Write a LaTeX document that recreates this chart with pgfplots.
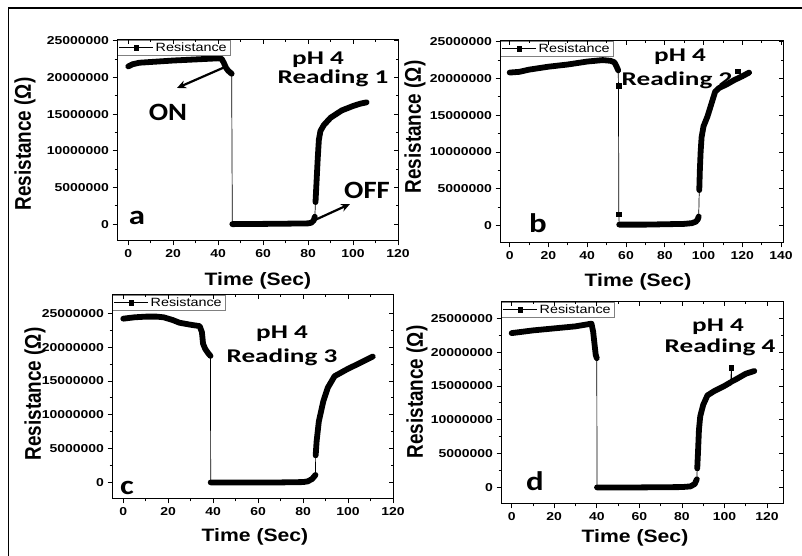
\documentclass[border=0pt]{standalone}
\usepackage{pgfplots}
\pgfplotsset{compat=1.18}
\usepackage{pgfplotstable}
\usepackage{fontspec}
\usepackage{graphicx}
\usetikzlibrary{arrows.meta}
\setmainfont{Liberation Sans}
\newfontfamily\tickf{Liberation Sans}[FakeStretch=1.22]
\newfontfamily\labf{Liberation Sans}[FakeStretch=1.18]
\newfontfamily\legf{Liberation Sans}[FakeStretch=1.2]
\newfontfamily\calf{Carlito}[FakeStretch=1.4]
\newfontfamily\letf{Carlito}[FakeStretch=1.22]
\newfontfamily\onf{Carlito}[FakeStretch=1.15]
\newcommand\TL{\tickf\bfseries\fontsize{11.5}{13}\selectfont}
\newcommand\LG{\legf\fontsize{12}{13}\selectfont}
\newcommand\XL{\labf\bfseries\fontsize{18}{20}\selectfont}
\newcommand\YL{\bfseries\fontsize{19}{21}\selectfont}
\newcommand\AN{\calf\bfseries\fontsize{19.5}{21}\selectfont}
\newcommand\LT{\letf\bfseries\fontsize{27}{30}\selectfont}
\newcommand\OO{\onf\bfseries\fontsize{25}{28}\selectfont}

\pgfplotstableread{
x y
0 21500000
2 21800000
5 22000000
10 22100000
20 22300000
30 22450000
40 22600000
41.5 22550000
42.5 22000000
43.5 21300000
44.5 20900000
46 20500000
nan nan
46.3 0
60 30000
70 60000
80 100000
81.5 200000
82.5 500000
83 1000000
nan nan
83.3 3000000
83.8 6000000
84.3 9000000
84.8 11500000
85.5 12700000
87 13500000
90 14500000
95 15500000
100 16100000
103 16400000
106 16600000
}\dA

\pgfplotstableread{
x y
0 20800000
5 20900000
10 21200000
20 21600000
30 21900000
40 22300000
48 22500000
52 22400000
54 22200000
55 21700000
56 21100000
nan nan
56.1 19000000
nan nan
56.3 1500000
nan nan
56.5 100000
70 100000
80 150000
90 200000
94 300000
96 500000
97 800000
97.5 1200000
nan nan
97.8 4800000
98.1 7500000
98.5 10000000
99 12000000
100 13500000
102 14800000
104 16500000
106 18200000
108 18700000
112 19200000
116 19800000
120 20300000
123.5 20800000
}\dB

\pgfplotstableread{
x y
0 24200000
5 24400000
10 24500000
15 24500000
18 24400000
22 24000000
25 23600000
30 23300000
34 23100000
35 22200000
35.5 20500000
36.5 19700000
38 19000000
38.8 18700000
nan nan
38.9 0
50 0
60 0
70 0
80 50000
82 150000
84 500000
85.5 1100000
nan nan
85.6 4000000
86 6000000
87 9000000
89 12000000
91 14000000
94 15700000
100 16800000
105 17600000
111 18600000
}\dC

\pgfplotstableread{
x y
0 22800000
10 23200000
20 23500000
30 23800000
37.5 24200000
38.3 23000000
39 21000000
39.5 19600000
40 19100000
nan nan
40.1 0
60 0
80 50000
84 150000
86 500000
87 1200000
nan nan
87.2 2800000
87.6 5500000
88 8500000
88.6 10500000
90 12200000
92 13600000
95 14200000
100 15000000
103 15550000
nan nan
103.2 17700000
nan nan
103.4 15650000
105 15900000
110 16800000
114 17200000
}\dD

\pgfplotsset{
  common/.style={scale only axis, anchor=south west,
    axis line style={line width=1bp},
    ytick={0,5000000,10000000,15000000,20000000,25000000},
    scaled y ticks=false, scaled x ticks=false,
    minor x tick num=1, minor y tick num=1,
    major tick length=4.5bp, minor tick length=2.5bp,
    every tick/.style={black, line width=0.8bp}},
  base/.style={common,
    yticklabels={0,5000000,10000000,15000000,20000000,25000000},
    tick align=outside, xtick pos=left, ytick pos=left,
    ticklabel style={font=\TL},
    /pgf/number format/assume math mode=true,
    legend style={at={(0,1)}, anchor=north west, draw=gray, line width=0.6bp,
      fill=white, font=\LG, inner xsep=1.5bp, inner ysep=0.5bp,
      cells={anchor=west}},
    legend image code/.code={
      \draw[mark repeat=2, mark phase=2, ##1]
        plot coordinates {(0bp,0bp) (17bp,0bp) (34bp,0bp)};}},
  over/.style={common, tick align=inside, xtick pos=right, ytick pos=right,
    xticklabels={}, yticklabels={}},
  thin/.style={black, line width=0.7bp, unbounded coords=discard, forget plot},
  thick/.style={black, line width=5.8bp, line cap=round, line join=round,
    unbounded coords=jump, forget plot},
  pa/.style={at={(117bp,315bp)}, width=281bp, height=201bp,
    xmin=-5, xmax=120, ymin=-2300000, ymax=25100000, xtick={0,20,...,120}},
  pb/.style={at={(500bp,313bp)}, width=283bp, height=202bp,
    xmin=-5, xmax=141, ymin=-2400000, ymax=25100000, xtick={0,20,...,140}},
  pc/.style={at={(112bp,57bp)}, width=281bp, height=204bp,
    xmin=-5, xmax=120, ymin=-2450000, ymax=27700000, xtick={0,20,...,120}},
  pd/.style={at={(501bp,52bp)}, width=282bp, height=202bp,
    xmin=-5, xmax=127.5, ymin=-2450000, ymax=27400000, xtick={0,20,...,120}},
  legimg/.style={black, line width=0.9bp, mark=square*, mark size=2.3bp},
}

\newcommand\ylab[2]{\node at (#1,#2) {\rotatebox{90}{\scalebox{1}[1.2]{\YL Resistance (Ω)}}};}

\begin{document}
\begin{tikzpicture}[x=1bp,y=1bp]
\useasboundingbox (0,0) rectangle (802,556);
\draw[line width=1.6bp] (8.5,-5) -- (8.5,548) -- (810,548);

% panel a
\begin{axis}[base, pa]
\addlegendimage{legimg}
\addlegendentry{Resistance}
\addplot[thin] table {\dA};
\addplot[thick] table {\dA};
\end{axis}
\begin{axis}[over, pa]\end{axis}

% panel b
\begin{axis}[base, pb]
\addlegendimage{legimg}
\addlegendentry{Resistance}
\addplot[thin] table {\dB};
\addplot[thick] table {\dB};
\addplot[only marks, mark=square*, mark size=2.3bp, black, forget plot]
  coordinates {(56.1,19000000) (56.3,1500000) (117.5,21000000)};
\end{axis}
\begin{axis}[over, pb]\end{axis}

% panel c
\begin{axis}[base, pc]
\addlegendimage{legimg}
\addlegendentry{Resistance}
\addplot[thin] table {\dC};
\addplot[thick] table {\dC};
\end{axis}
\begin{axis}[over, pc]\end{axis}

% panel d
\begin{axis}[base, pd]
\addlegendimage{legimg}
\addlegendentry{Resistance}
\addplot[thin] table {\dD};
\addplot[thick] table {\dD};
\addplot[only marks, mark=square*, mark size=2.3bp, black, forget plot]
  coordinates {(103.2,17700000)};
\end{axis}
\begin{axis}[over, pd]\end{axis}

% axis titles
\node[font=\XL] at (258,275) {Time (Sec)};
\node[font=\XL] at (638,274) {Time (Sec)};
\node[font=\XL] at (255,19) {Time (Sec)};
\node[font=\XL] at (635,18) {Time (Sec)};
\ylab{25}{412}
\ylab{415}{429}
\ylab{35}{162}
\ylab{417}{164}

% annotations
\node[font=\AN] at (318,496) {pH 4};
\node[font=\AN] at (333,478) {Reading 1};
\node[font=\AN] at (680,499) {pH 4};
\node[font=\AN] at (677,476) {Reading 2};
\node[font=\AN] at (282,222) {pH 4};
\node[font=\AN] at (282,199) {Reading 3};
\node[font=\AN] at (718,229) {pH 4};
\node[font=\AN] at (720,209) {Reading 4};

\node[font=\LT] at (137,338) {a};
\node[font=\LT] at (538,333) {b};
\node[font=\LT] at (127,68) {c};
\node[font=\LT] at (535,75) {d};

\node[font=\OO] at (168,444) {ON};
\node[font=\OO] at (367,366) {OFF};
\draw[line width=2.2bp, -{Stealth[length=9bp,width=8bp]}] (225,489) -- (177,468);
\draw[line width=2.2bp, -{Stealth[length=9bp,width=8bp]}] (315,336) -- (350,352);
\end{tikzpicture}
\end{document}
